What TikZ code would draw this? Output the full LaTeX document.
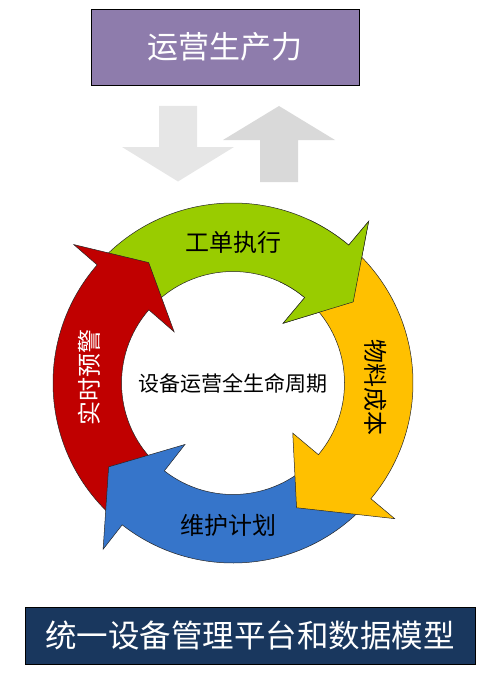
\documentclass[tikz,border=0pt]{standalone}
\usepackage{fontspec}
\setmainfont{Noto Sans CJK SC}
\definecolor{toppurple}{RGB}{142,124,172}
\definecolor{navy}{RGB}{25,55,94}
\definecolor{cgreen}{RGB}{153,204,0}
\definecolor{corange}{RGB}{255,192,0}
\definecolor{cred}{RGB}{192,0,0}
\definecolor{cblue}{RGB}{54,117,202}
\definecolor{grayA}{RGB}{230,230,230}
\definecolor{grayB}{RGB}{217,217,217}
\newcommand\ringarr[5]{%
  \path[ringline, fill=#1] (#2:180pt) arc[start angle=#2, end angle=#3, radius=180pt]
    -- (#3:211pt) -- (#4:#5pt) -- (#3:78pt) -- (#3:111.5pt)
    arc[start angle=#3, end angle=#2, radius=111.5pt] -- cycle;}
\begin{document}
\begin{tikzpicture}[x=1pt,y=1pt,
  ringline/.style={draw=black!85, line width=0.5pt},
  bigbox/.style={draw=black, line width=0.8pt, inner sep=0pt, text=white},
  ringlabel/.style={font=\fontsize{24pt}{24pt}\selectfont, inner sep=0pt}]
\useasboundingbox (0,0) rectangle (487,-674);
% top box
\node[bigbox, fill=toppurple, minimum width=268pt, minimum height=76pt,
      font=\fontsize{31pt}{31pt}\selectfont] (top) at (225,-47) {运营生产力};
% grey block arrows
\fill[grayA] (159,-106) -- (197,-106) -- (197,-147) -- (234,-147) -- (178,-181.5)
   -- (122,-147) -- (159,-147) -- cycle;
\fill[grayB] (279,-106) -- (335,-140) -- (298,-140) -- (298,-182) -- (260,-182)
   -- (260,-140) -- (223,-140) -- cycle;
% ring of arrows
\begin{scope}[shift={(233,-383)}]
  \ringarr{cgreen}{136}{50}{34}{145}
  \ringarr{cred}{228}{139}{125}{147}
  \ringarr{cblue}{316}{232}{214}{150}
  \ringarr{corange}{46}{-40}{-63}{140}
  \begin{scope}
    \clip (0,0) -- (15:260pt) arc[start angle=15, end angle=65, radius=260pt] -- cycle;
    \ringarr{cgreen}{136}{50}{34}{145}
  \end{scope}
\end{scope}
\node[ringlabel] (lgreen) at (233,-242) {工单执行};
\node[ringlabel, text=white, rotate=90] (lred) at (89,-377) {实时预警};
\node[ringlabel, rotate=-90] (lorange) at (376,-387) {物料成本};
\node[ringlabel] (lblue) at (228,-525) {维护计划};
\node[font=\fontsize{21pt}{21pt}\selectfont, inner sep=0pt] (center) at (233,-383) {设备运营全生命周期};
% bottom box
\node[bigbox, fill=navy, minimum width=450pt, minimum height=57pt,
      font=\fontsize{31.5pt}{31.5pt}\selectfont] (bottom) at (250,-635.5) {统一设备管理平台和数据模型};
\end{tikzpicture}
\end{document}
